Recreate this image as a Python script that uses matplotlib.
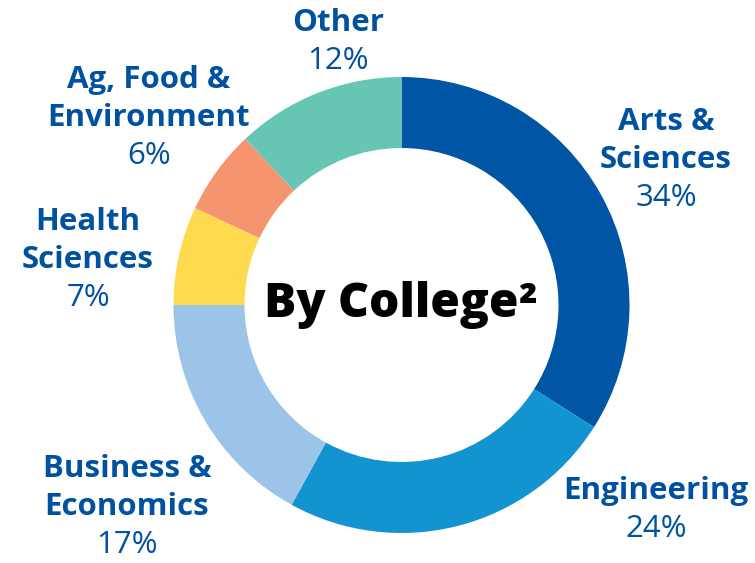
import matplotlib
matplotlib.use("Agg")
import matplotlib.pyplot as plt

categories = ["Arts & Sciences", "Engineering", "Business & Economics",
              "Health Sciences", "Ag, Food & Environment", "Other"]
values = [34, 24, 17, 7, 6, 12]
colors = ["#0055A4", "#1493D1", "#9BC4E8", "#FFDA4F", "#F5956F", "#66C5B3"]
label_lines = [["Arts &", "Sciences"], ["Engineering"], ["Business &", "Economics"],
               ["Health", "Sciences"], ["Ag, Food &", "Environment"], ["Other"]]

W, H = 755, 563
fig = plt.figure(figsize=(W / 100, H / 100), dpi=100)
ax = fig.add_axes([0, 0, 1, 1])

cx, cy, R = 401.5, H - 305, 228
ax.pie(values, colors=colors, startangle=90, counterclock=False,
       center=(cx, cy), radius=R, frame=True,
       wedgeprops=dict(width=R - 157, linewidth=0))
ax.set_xlim(0, W)
ax.set_ylim(0, H)
ax.axis("off")

blue = "#0052A0"
fam = ["Open Sans", "DejaVu Sans"]
fs = 22.5
anchors = [(338, 23), (666, 122), (656, 491), (127, 469), (88, 222), (149, 80)]
anchors = [(666, 122), (656, 491), (127, 469), (88, 222), (149, 80), (338, 23)]
step = 38
for lines, v, (x, y) in zip(label_lines, values, anchors):
    for i, ln in enumerate(lines):
        ax.text(x, H - (y + i * step), ln, ha="center", va="center",
                fontsize=fs, fontweight="bold", color=blue, family=fam)
    ax.text(x, H - (y + len(lines) * step), f"{v}%", ha="center", va="center",
            fontsize=fs, color=blue, family=fam)

ax.text(401, H - 305, "By College²", ha="center", va="center",
        fontsize=34.5, fontweight="heavy", color="black", family=fam)

fig.savefig("out.png", dpi=100)
